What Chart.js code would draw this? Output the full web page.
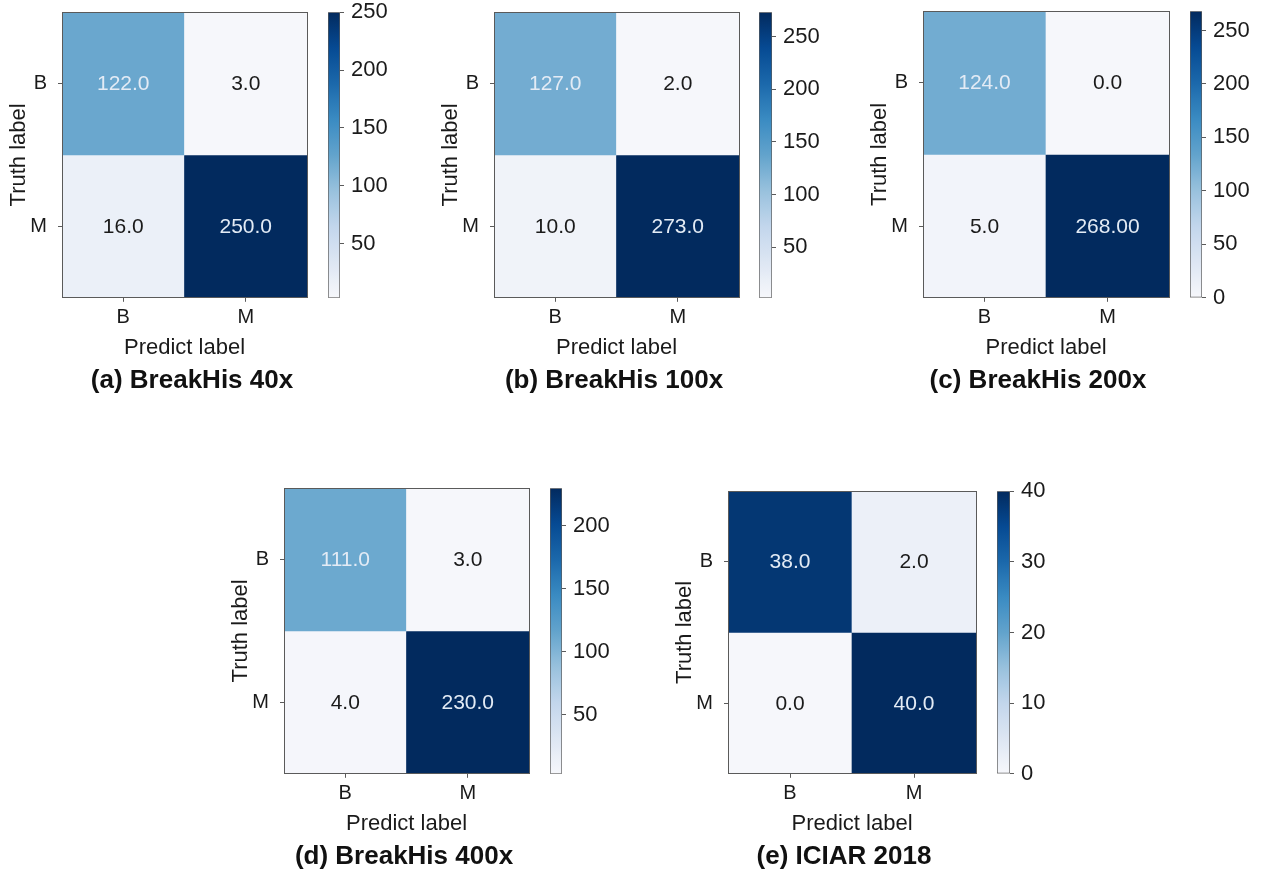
<!DOCTYPE html>
<html><head><meta charset="utf-8">
<script src="https://cdn.jsdelivr.net/npm/chart.js@4.4.1/dist/chart.umd.min.js"></script>
<style>
html,body{margin:0;padding:0;background:#fff;}
body{width:1262px;height:870px;position:relative;overflow:hidden;}
.wrap{position:absolute;}
canvas{display:block;}
</style></head><body>
<script>
// ---------- data ----------
const predictLabels = ['B', 'M'];
const truthLabels = ['B', 'M'];
// row-major: truth B -> [pred B, pred M], truth M -> [pred B, pred M]
const matA = [122, 3, 16, 250];
const matB = [127, 2, 10, 273];
const matC = [124, 0, 5, 268];
const matD = [111, 3, 4, 230];
const matE = [38, 2, 0, 40];
// decimals printed in each cell
const digitsA = [1, 1, 1, 1];
const digitsB = [1, 1, 1, 1];
const digitsC = [1, 1, 1, 2];
const digitsD = [1, 1, 1, 1];
const digitsE = [1, 1, 1, 1];
// colorbar tick labels
const cbTicksA = [50, 100, 150, 200, 250];
const cbTicksB = [50, 100, 150, 200, 250];
const cbTicksC = [0, 50, 100, 150, 200, 250];
const cbTicksD = [50, 100, 150, 200];
const cbTicksE = [0, 10, 20, 30, 40];
const captionA = '(a) BreakHis 40x';
const captionB = '(b) BreakHis 100x';
const captionC = '(c) BreakHis 200x';
const captionD = '(d) BreakHis 400x';
const captionE = '(e) ICIAR 2018';
const xTitle = 'Predict label';
const yTitle = 'Truth label';

// ---------- layout (pixels) ----------
const panels = [
  {mat: matA, digits: digitsA, ticks: cbTicksA, caption: captionA, areaL: 62,  areaT: 12,  areaR: 307,  areaB: 298, cbL: 328,  cbR: 340,  capX: 192},
  {mat: matB, digits: digitsB, ticks: cbTicksB, caption: captionB, areaL: 494, areaT: 12,  areaR: 739,  areaB: 298, cbL: 759,  cbR: 772,  capX: 614},
  {mat: matC, digits: digitsC, ticks: cbTicksC, caption: captionC, areaL: 923, areaT: 11,  areaR: 1169, areaB: 298, cbL: 1190, cbR: 1202, capX: 1038},
  {mat: matD, digits: digitsD, ticks: cbTicksD, caption: captionD, areaL: 284, areaT: 488, areaR: 529,  areaB: 774, cbL: 550,  cbR: 562,  capX: 404},
  {mat: matE, digits: digitsE, ticks: cbTicksE, caption: captionE, areaL: 728, areaT: 491, areaR: 976,  areaB: 774, cbL: 997,  cbR: 1010, capX: 844}
];

const FAMILY = "'Liberation Sans', Arial, Helvetica, sans-serif";
Chart.defaults.font.family = FAMILY;
Chart.defaults.color = '#1a1a1a';
const AXIS_COLOR = '#5a5a5a';

// Blues-like colormap as it appears in the figure
const BLUES = ['#f6f7fb','#dde6f3','#c2d6ec','#98c1dd','#62a3cc','#3a8bc2','#1b68ab','#064a93','#022a5e'];
function hex2rgb(h){ return [parseInt(h.slice(1,3),16), parseInt(h.slice(3,5),16), parseInt(h.slice(5,7),16)]; }
function blues(t){
  t = Math.max(0, Math.min(1, t));
  const x = t * (BLUES.length - 1);
  const i = Math.min(BLUES.length - 2, Math.floor(x));
  const f = x - i;
  const a = hex2rgb(BLUES[i]), b = hex2rgb(BLUES[i+1]);
  const c = a.map((v, k) => Math.round(v + (b[k] - v) * f));
  return `rgb(${c[0]},${c[1]},${c[2]})`;
}

function makeCanvas(w, h){
  const d = document.createElement('div');
  d.className = 'wrap';
  d.style.left = '0px'; d.style.top = '0px';
  d.style.width = w + 'px'; d.style.height = h + 'px';
  const c = document.createElement('canvas');
  c.width = w; c.height = h;
  c.style.width = w + 'px'; c.style.height = h + 'px';
  d.appendChild(c);
  document.body.appendChild(d);
  return c;
}

// build a chart, then rebuild it once with a corrected height so that
// its plot area lands exactly on the wanted box [L, T, B]
function placeChart(W, H, configFn, L, T, B){
  let canvas = makeCanvas(W, H);
  let chart = new Chart(canvas, configFn());
  let ca = chart.chartArea;
  const diff = (B - T) - (ca.bottom - ca.top);
  if (Math.abs(diff) > 0.01) {
    chart.destroy();
    canvas.parentNode.remove();
    H = Math.round(H + diff);
    canvas = makeCanvas(W, H);
    chart = new Chart(canvas, configFn());
    ca = chart.chartArea;
  }
  const wrap = canvas.parentNode;
  wrap.style.left = Math.round(L - ca.left) + 'px';
  wrap.style.top = Math.round(T - ca.top) + 'px';
  return chart;
}

const cellTextPlugin = {
  id: 'cellText',
  afterDatasetsDraw(chart){
    const p = chart.options.plugins.cellText;
    const ctx = chart.ctx;
    ctx.save();
    ctx.font = `21px ${FAMILY}`;
    ctx.textAlign = 'center';
    ctx.textBaseline = 'middle';
    chart.data.datasets.forEach((ds, r) => {
      const meta = chart.getDatasetMeta(r);
      meta.data.forEach((el, c) => {
        const idx = r * predictLabels.length + c;
        const v = p.mat[idx];
        const {x, y, base} = el.getProps(['x', 'y', 'base'], true);
        ctx.fillStyle = (v - p.vmin) / (p.vmax - p.vmin) > 0.3 ? '#e3ebf5' : '#1a1a1a';
        ctx.fillText(v.toFixed(p.digits[idx]), x, (y + base) / 2 + 1);
      });
    });
    ctx.restore();
  }
};

function makeHeat(p){
  const Y_AXIS_W = 62, PAD_T = 14, X_AXIS_H = 63, TITLE_H = 36, PAD_B = 4;
  const left = p.areaL - Y_AXIS_W;
  const W = Math.round(2 * (p.capX - left));
  const rightAxisW = left + W - p.areaR;
  const H = PAD_T + (p.areaB - p.areaT) + X_AXIS_H + TITLE_H + PAD_B;
  const vmin = Math.min(...p.mat), vmax = Math.max(...p.mat);
  const n = truthLabels.length;
  const configFn = () => ({
    type: 'bar',
    data: {
      labels: predictLabels,
      datasets: truthLabels.map((t, r) => ({
        label: t,
        data: predictLabels.map(() => [n - 1 - r, n - r]),
        backgroundColor: predictLabels.map((_, c) => blues((p.mat[r * predictLabels.length + c] - vmin) / (vmax - vmin))),
        borderWidth: 0,
        grouped: false,
        barPercentage: 1,
        categoryPercentage: 1
      }))
    },
    plugins: [cellTextPlugin],
    options: {
      responsive: false, maintainAspectRatio: false, animation: false, devicePixelRatio: 1,
      layout: {padding: {top: PAD_T, left: 0, right: 0, bottom: PAD_B}},
      plugins: {
        legend: {display: false}, tooltip: {enabled: false},
        cellText: {mat: p.mat, digits: p.digits, vmin, vmax},
        title: {display: true, position: 'bottom', text: p.caption, fullSize: true,
                font: {size: 26, weight: 'bold', family: FAMILY, lineHeight: 1.2}, color: '#111',
                padding: {top: 4, bottom: 0}}
      },
      scales: {
        x: {
          type: 'category', offset: true,
          grid: {offset: false, drawOnChartArea: false, tickLength: 4, color: AXIS_COLOR},
          border: {display: true, color: AXIS_COLOR, width: 1, z: 1},
          ticks: {font: {size: 20}, color: '#1a1a1a', padding: 4},
          title: {display: true, text: xTitle, font: {size: 22}, color: '#1a1a1a', padding: {top: 0, bottom: 0}},
          afterFit: s => { s.height = X_AXIS_H; }
        },
        y: {
          type: 'linear', min: 0, max: n,
          afterBuildTicks: s => { s.ticks = truthLabels.map((_, r) => ({value: n - r - 0.5})); },
          ticks: {font: {size: 20}, color: '#1a1a1a', padding: 11, autoSkip: false,
                  callback: v => truthLabels[n - 1 - Math.floor(v)]},
          grid: {drawOnChartArea: false, tickLength: 4, color: AXIS_COLOR},
          border: {display: true, color: AXIS_COLOR, width: 1, z: 1},
          title: {display: true, text: yTitle, font: {size: 22}, color: '#1a1a1a', padding: {top: 6, bottom: 0}},
          afterFit: s => { s.width = Y_AXIS_W; }
        },
        x2: {
          type: 'linear', position: 'top', display: true,
          ticks: {display: false}, grid: {display: false},
          border: {display: true, color: AXIS_COLOR, width: 1, z: 1},
          afterFit: s => { s.height = 0; }
        },
        y2: {
          type: 'linear', position: 'right', display: true,
          ticks: {display: false}, grid: {display: false},
          border: {display: true, color: AXIS_COLOR, width: 1, z: 1},
          afterFit: s => { s.width = rightAxisW; }
        }
      }
    }
  });
  placeChart(W, H, configFn, p.areaL, p.areaT, p.areaB);
}

function makeColorbar(p){
  const PAD_T = 20, AX_W = 64;
  const W = (p.cbR - p.cbL) + AX_W;
  const H = PAD_T * 2 + (p.areaB - p.areaT);
  const vmin = Math.min(...p.mat), vmax = Math.max(...p.mat);
  const configFn = () => ({
    type: 'bar',
    data: {labels: [''], datasets: [{
      data: [[vmin, vmax]],
      backgroundColor: ctx => {
        const chart = ctx.chart;
        const ys = chart.scales.y;
        if (!chart.chartArea || !ys) return BLUES[4];
        const g = chart.ctx.createLinearGradient(0, ys.getPixelForValue(vmin), 0, ys.getPixelForValue(vmax));
        for (let i = 0; i <= 32; i++) g.addColorStop(i / 32, blues(i / 32));
        return g;
      },
      borderColor: AXIS_COLOR, borderWidth: 1, borderSkipped: false,
      barPercentage: 1, categoryPercentage: 1
    }]},
    options: {
      responsive: false, maintainAspectRatio: false, animation: false, devicePixelRatio: 1,
      layout: {padding: {top: PAD_T, bottom: PAD_T, left: 0, right: 0}},
      plugins: {legend: {display: false}, tooltip: {enabled: false}},
      scales: {
        x: {display: false},
        y: {
          position: 'right', min: vmin, max: vmax,
          afterBuildTicks: s => { s.ticks = p.ticks.map(v => ({value: v})); },
          ticks: {font: {size: 22}, color: '#1a1a1a', padding: 7},
          grid: {drawOnChartArea: false, tickLength: 4, color: AXIS_COLOR},
          border: {display: false},
          afterFit: s => { s.width = AX_W; }
        }
      }
    }
  });
  placeChart(W, H, configFn, p.cbL, p.areaT, p.areaB);
}

panels.forEach(p => { makeHeat(p); makeColorbar(p); });
</script>
</body></html>
